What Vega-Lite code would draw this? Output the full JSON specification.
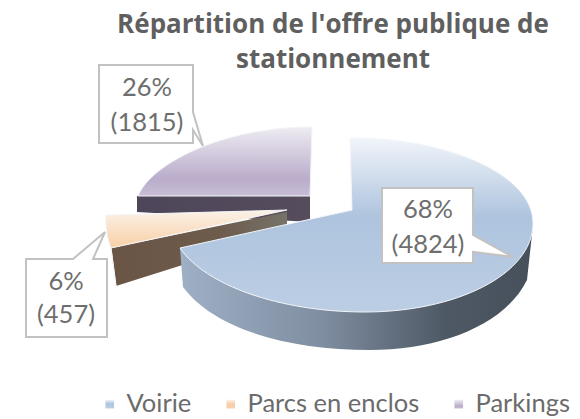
{"$schema":"https://vega.github.io/schema/vega-lite/v6.json","width":580,"height":419,"autosize":"none","padding":0,"background":"white","title":{"text":["Répartition de l'offre publique de","stationnement"],"font":"Open Sans","fontWeight":"bold","fontSize":26,"color":"#5f5f5f","lineHeight":35,"anchor":"middle","baseline":"top","offset":0,"dx":43,"dy":73},"config":{"view":{"stroke":null}},"data":{"values":[{"slice":"Parkings","value":1815,"pct":26,"label":"26%\n(1815)"},{"slice":"Parcs en enclos","value":457,"pct":6,"label":"6%\n(457)"},{"slice":"Voirie","value":4824,"pct":68,"label":"68%\n(4824)"}]},"resolve":{"scale":{"shape":"independent"}},"layer":[{"mark":{"type":"point","filled":true,"opacity":1,"size":4},"encoding":{"shape":{"field":"slice","type":"nominal","legend":null,"scale":{"domain":["Voirie","Parcs en enclos","Parkings"],"range":["M-110,38.5 L-107,77.5 C-75,120.5 0,140.5 80,140.5 C150,140.5 215,115.5 237,70.5 L243,15.5 L62,15.5 Z","M-179,38.5 L-3,2.5 L-3,22.5 L-174,76.5 Z","M-153,-13.5 L20,-13.5 L20,12.5 L-153,2.5 Z"]}},"color":{"field":"slice","type":"nominal","legend":null,"scale":{"domain":["Parkings","Parcs en enclos","Voirie"],"range":[{"expr":"{gradient:'linear',x1:0,y1:0,x2:1,y2:0,stops:[{offset:0,color:'#4d465a'},{offset:1,color:'#564c5c'}]}"},{"expr":"{gradient:'linear',x1:0,y1:0,x2:1,y2:0,stops:[{offset:0,color:'#6a5545'},{offset:0.6,color:'#6d5b4b'},{offset:1,color:'#76736a'}]}"},{"expr":"{gradient:'linear',x1:0,y1:0,x2:1,y2:0,stops:[{offset:0,color:'#9fb0c6'},{offset:0.4,color:'#7f8ea1'},{offset:0.75,color:'#4e5965'},{offset:1,color:'#46505b'}]}"}]}}}},{"mark":{"type":"point","filled":true,"opacity":1,"size":4,"stroke":"#f3f5f9","strokeWidth":1},"encoding":{"shape":{"field":"slice","type":"nominal","legend":null,"scale":{"domain":["Voirie","Parcs en enclos","Parkings"],"range":["M62,0.5 L60,-71.5 C160,-71.5 243,-34.5 243,13.5 C243,65.5 165,102.5 75,102.5 C-10,102.5 -85,75.5 -110,38.5 Z","M-3,0.5 L-184,5.5 C-185,15.5 -183,28.5 -179,38.5 L-174,76.5 L-179,38.5 Z","M22,-82.5 L20,-13.5 L-152,-13.5 C-140,-44.5 -70,-82.5 22,-82.5 Z"]}},"fill":{"field":"slice","type":"nominal","scale":{"domain":["Voirie","Parcs en enclos","Parkings"],"range":[{"expr":"{gradient:'linear',x1:0,y1:0,x2:0,y2:1,stops:[{offset:0,color:'#f1f5fa'},{offset:0.45,color:'#aec4de'},{offset:1,color:'#bccee4'}]}"},{"expr":"{gradient:'linear',x1:0,y1:0,x2:0,y2:1,stops:[{offset:0,color:'#fbf2e8'},{offset:0.5,color:'#f8cfa6'},{offset:1,color:'#f5d0ac'}]}"},{"expr":"{gradient:'linear',x1:0,y1:0,x2:0,y2:1,stops:[{offset:0,color:'#eeecf2'},{offset:0.75,color:'#baaccb'},{offset:1,color:'#c8bed5'}]}"}]},"legend":{"title":null,"orient":"none","legendX":97,"legendY":391,"direction":"horizontal","columns":3,"symbolType":"square","symbolSize":75,"symbolStrokeWidth":0,"labelFont":"Lato","labelFontSize":25.5,"labelColor":"#6b6b6b","labelOffset":4,"columnPadding":26,"labelLimit":300}}}},{"mark":{"type":"point","filled":true,"opacity":1,"size":4,"fill":"white","stroke":"#c2c2c2","strokeWidth":2},"encoding":{"shape":{"field":"slice","type":"nominal","legend":null,"scale":{"domain":["Voirie","Parcs en enclos","Parkings"],"range":["M92,-21.5 H183 V25.5 L223,47.5 L183,42.5 V53.5 H92 Z","M-264,49.5 H-217 L-185,22.5 L-197,49.5 H-183 V127.5 H-264 Z","M-191,-144.5 H-97 V-97.5 L-87,-63.5 L-97,-79.5 V-66.5 H-191 Z"]}}}},{"transform":[{"filter":"datum.slice === 'Voirie'"}],"mark":{"type":"text","font":"Lato","fontSize":25.5,"color":"#6e6e6e","lineBreak":"\n","lineHeight":35,"align":"center","baseline":"middle","dx":138,"dy":0.5},"encoding":{"text":{"field":"label","type":"nominal"}}},{"transform":[{"filter":"datum.slice === 'Parcs en enclos'"}],"mark":{"type":"text","font":"Lato","fontSize":25.5,"color":"#6e6e6e","lineBreak":"\n","lineHeight":33,"align":"center","baseline":"middle","dx":-224,"dy":72.5},"encoding":{"text":{"field":"label","type":"nominal"}}},{"transform":[{"filter":"datum.slice === 'Parkings'"}],"mark":{"type":"text","font":"Lato","fontSize":25.5,"color":"#6e6e6e","lineBreak":"\n","lineHeight":35,"align":"center","baseline":"middle","dx":-143,"dy":-122},"encoding":{"text":{"field":"label","type":"nominal"}}}]}
